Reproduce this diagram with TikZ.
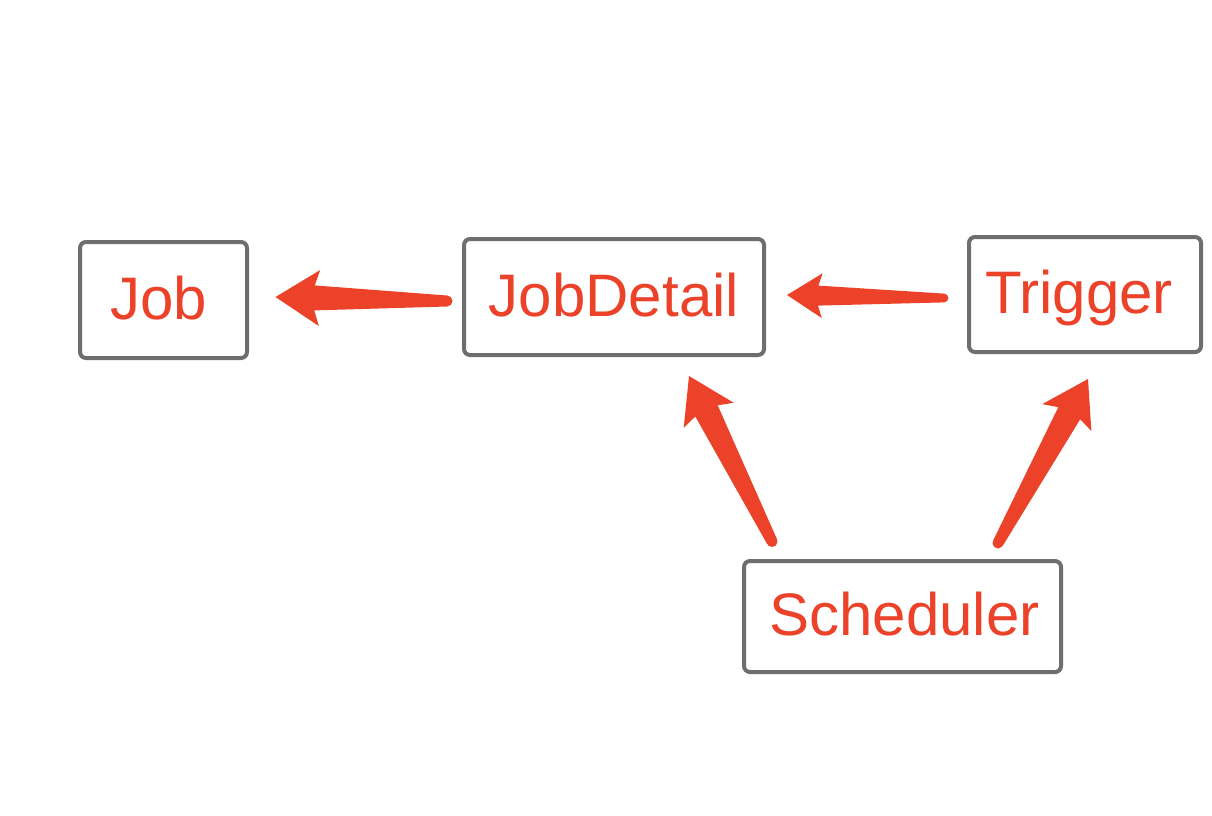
\documentclass[tikz,border=0pt]{standalone}
\usepackage{fontspec}
\setmainfont{Liberation Sans}
\usetikzlibrary{calc}
\definecolor{skred}{RGB}{236,66,41}
\definecolor{boxgray}{RGB}{110,110,110}
% tapered arrow: [scale]{tail}{tip}
\newcommand{\skarrow}[3][1]{%
  \path ($(#3)!#1*44pt!(#2)$) coordinate (skH)
        ($(#3)!#1*39pt!(#2)$) coordinate (skN);
  \fill[skred] (#3)
    -- ($(skH)!#1*28pt!90:(#3)$)
    -- ($(skN)!#1*12.5pt!90:(#3)$)
    -- ($(#2)!#1*5.5pt!90:(#3)$)
    -- ($(#2)!#1*5.5pt!-90:(#3)$)
    -- ($(skN)!#1*12.5pt!-90:(#3)$)
    -- ($(skH)!#1*28pt!-90:(#3)$)
    -- cycle;
  \fill[skred] (#2) circle[radius=#1*5.5pt];
}
\tikzset{
  box/.style={draw=boxgray, line width=4pt, rounded corners=6pt, text=skred,
    font=\fontsize{60}{70}\selectfont, inner sep=0pt, outer sep=0pt,
    text height=43pt, text depth=5pt}
}
\begin{document}
\begin{tikzpicture}[x=1pt,y=-1pt]
\fill[white] (0,0) rectangle (1212,815);
\useasboundingbox (0,0) rectangle (1212,815);

\node[box, minimum width=167pt, minimum height=116pt] (job) at (163.5,300) {\hspace*{-10pt}Job};
\node[box, minimum width=300pt, minimum height=116pt] (jobdetail) at (614,297) {JobDetail};
\node[box, minimum width=232pt, minimum height=115pt] (trigger) at (1085,294.5) {\hspace*{-12pt}Trigger};
\node[box, minimum width=317pt, minimum height=111pt] (scheduler) at (902.5,616.5) {\hspace*{4pt}Scheduler};

\coordinate (a1tail) at ($(jobdetail.west)+(-17,4)$);
\coordinate (a1tip) at ($(job.east)+(28.5,-3)$);
\coordinate (a2tail) at ($(trigger.west)+(-25,3.5)$);
\coordinate (a2tip) at ($(jobdetail.east)+(23,-2)$);
\coordinate (a3tail) at ($(scheduler.north)+(-130.5,-19.5)$);
\coordinate (a3tip) at ($(jobdetail.south)+(75,21)$);
\coordinate (a4tail) at ($(scheduler.north)+(95.5,-18)$);
\coordinate (a4tip) at ($(trigger.south)+(3,27)$);

\skarrow{a1tail}{a1tip}
\skarrow[0.8]{a2tail}{a2tip}
\skarrow{a3tail}{a3tip}
\skarrow{a4tail}{a4tip}
\end{tikzpicture}
\end{document}
